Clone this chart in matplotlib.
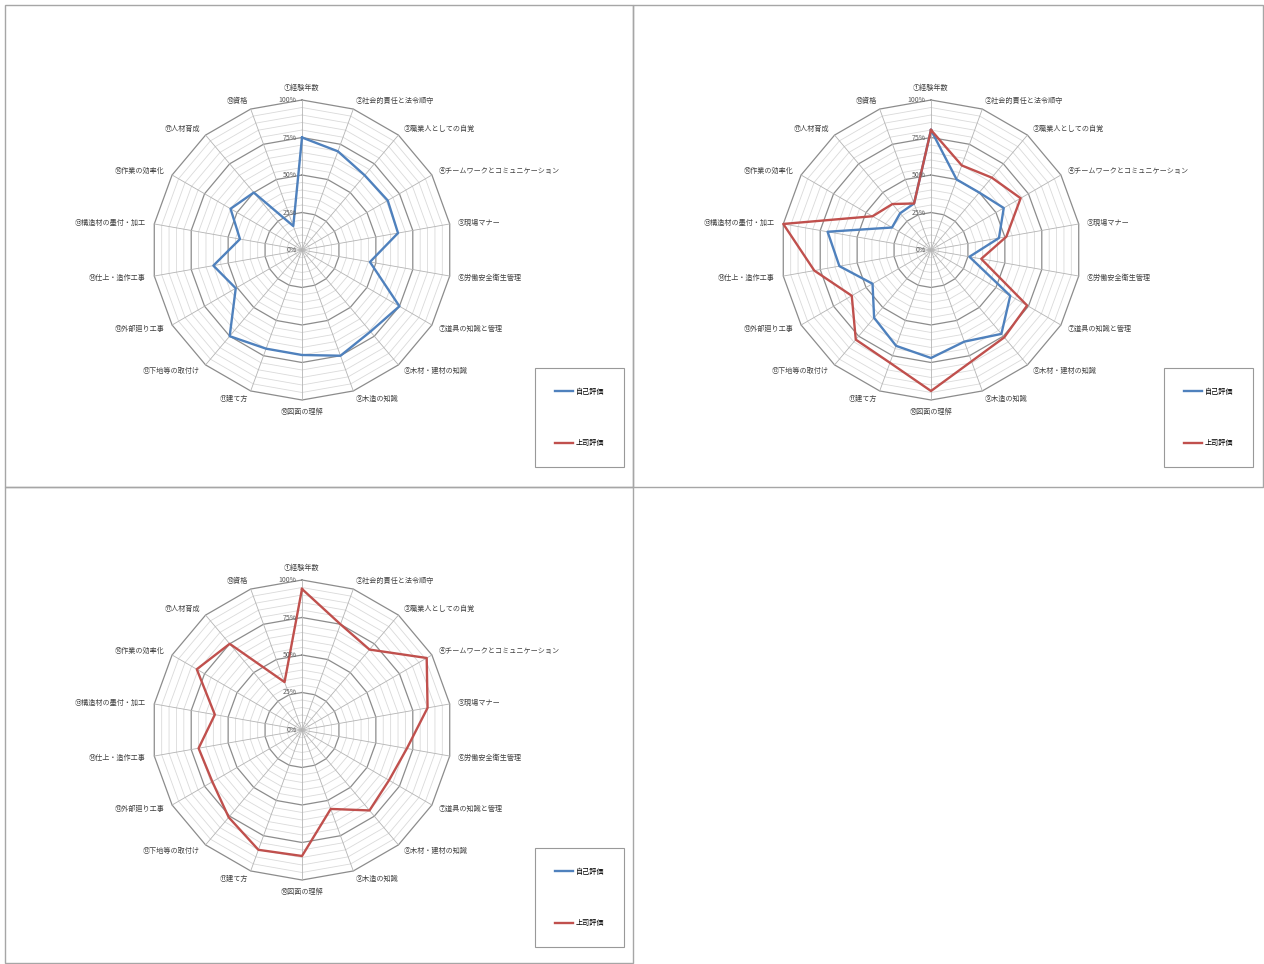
import numpy as np
import matplotlib.pyplot as plt
from matplotlib.patches import Rectangle

plt.rcParams['font.family'] = ['Noto Sans CJK JP', 'DejaVu Sans']

categories = [
    "①経験年数", "②社会的責任と法令順守", "③職業人としての自覚",
    "④チームワークとコミュニケーション", "⑤現場マナー", "⑥労働安全衛生管理",
    "⑦道具の知識と管理", "⑧木材・建材の知識", "⑨木造の知識", "⑩図面の理解",
    "⑪建て方", "⑫下地等の取付け", "⑬外部廻り工事", "⑭仕上・造作工事",
    "⑮構造材の墨付・加工", "⑯作業の効率化", "⑰人材育成", "⑱資格",
]
series_names = ["自己評価", "上司評価"]
r_ticks = [0, 25, 50, 75, 100]
r_tick_labels = ["0%", "25%", "50%", "75%", "100%"]

# chart 1: self evaluation only
self_1 = [75, 70, 65, 66, 65, 46, 75, 71, 75, 70, 70, 75, 51, 60, 42, 55, 50, 17]
boss_1 = []
# chart 2: both
self_2 = [80, 50, 50, 56, 46, 26, 61, 73, 65, 72, 68, 59, 45, 62, 70, 30, 32, 33]
boss_2 = [80, 60, 63, 69, 51, 34, 74, 76, 79, 94, 80, 78, 61, 79, 100, 45, 40, 33]
# chart 3: boss evaluation only
self_3 = []
boss_3 = [94, 75, 70, 96, 85, 71, 67, 70, 56, 84, 85, 76, 69, 70, 59, 81, 75, 34]

colors = ["#4F81BD", "#C0504D"]

W, H = 1264, 964
fig = plt.figure(figsize=(W / 100, H / 100), dpi=100)


def px_rect(x0, y0, w, h):
    return [x0 / W, 1 - (y0 + h) / H, w / W, h / H]


panels = [(5, 5, 628, 482), (633, 5, 630, 482), (5, 487, 628, 476)]
centers = [(302, 250), (931, 250), (302, 730)]
legend_pos = [(535, 368), (1164, 368), (535, 848)]
charts = [(self_1, boss_1), (self_2, boss_2), (self_3, boss_3)]

for (x0, y0, w, h) in panels:
    fig.add_artist(Rectangle((x0 / W, 1 - (y0 + h) / H), w / W, h / H,
                             transform=fig.transFigure, fill=False,
                             ec="#a6a6a6", lw=1))

n = len(categories)
theta = np.arange(n) * 2 * np.pi / n
closed = np.append(theta, theta[0])

for (cx, cy), (lx, ly), series in zip(centers, legend_pos, charts):
    R = 150
    ax = fig.add_axes(px_rect(cx - R, cy - R, 2 * R, 2 * R), projection="polar")
    ax.set_theta_zero_location("N")
    ax.set_theta_direction(-1)
    ax.set_ylim(0, 100)
    ax.grid(False)
    ax.set_xticks([])
    ax.set_yticks([])
    ax.spines["polar"].set_visible(False)
    ax.patch.set_visible(False)

    # polygon gridlines
    for lvl in range(5, 101, 5):
        major = lvl % 25 == 0
        ax.plot(closed, [lvl] * (n + 1), color="#8c8c8c" if major else "#dadada",
                lw=0.9 if major else 0.6, zorder=1, clip_on=False)
    for t in theta:
        ax.plot([t, t], [0, 100], color="#b4b4b4", lw=0.6, zorder=1, clip_on=False)

    handles = []
    for vals, name, col in zip(series, series_names, colors):
        if len(vals):
            line, = ax.plot(closed, np.append(vals, vals[0]), color=col, lw=1.7,
                            zorder=3, clip_on=False, label=name)
        else:
            line, = ax.plot([], [], color=col, lw=1.7, label=name)
        handles.append(line)

    for t, lab in zip(theta, categories):
        s, c = np.sin(t), np.cos(t)
        ha = "center" if abs(s) < 0.01 else ("left" if s > 0 else "right")
        va = "bottom" if c > 0.99 else ("top" if c < -0.99 else "center")
        ax.annotate(lab, xy=(t, 100), xytext=(6 * s, 6 * c), textcoords="offset points",
                    ha=ha, va=va, fontsize=5.1, color="#404040", annotation_clip=False)

    for v, lab in zip(r_ticks, r_tick_labels):
        ax.annotate(lab, xy=(0, v), xytext=(-4, 0), textcoords="offset points",
                    ha="right", va="center", fontsize=5, color="#595959")

    leg = ax.legend(handles, series_names, loc="upper left",
                    bbox_to_anchor=(lx / W, 1 - ly / H), bbox_transform=fig.transFigure,
                    fontsize=5.1, frameon=True, fancybox=False, edgecolor="#808080",
                    borderpad=2.8, labelspacing=6.1, handlelength=2.5,
                    handletextpad=0.5, borderaxespad=0)
    leg.get_frame().set_linewidth(0.8)

fig.savefig("out.png", dpi=100)
